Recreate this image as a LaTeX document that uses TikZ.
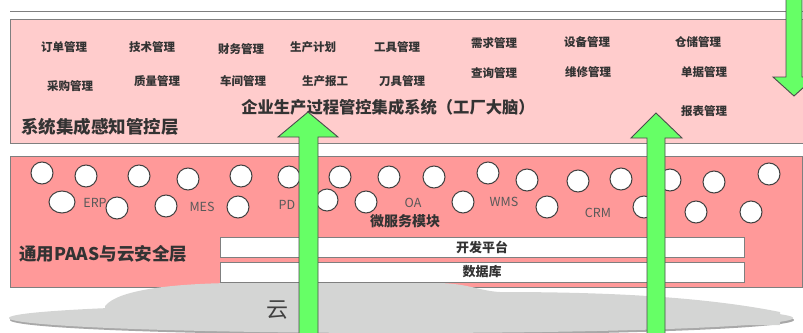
\documentclass[tikz,border=0pt]{standalone}
\usepackage{fontspec}
\setmainfont{Noto Sans CJK SC}
\newfontfamily\cjk{Noto Sans CJK SC}
\definecolor{toppink}{HTML}{FFCCCC}
\definecolor{midpink}{HTML}{FF9999}
\definecolor{frame}{HTML}{7F7F7F}
\definecolor{arrgreen}{HTML}{66FF66}
\definecolor{cloudgray}{HTML}{D4D5D4}
\definecolor{cloudshadow}{HTML}{A8A8A8}
\definecolor{txtdark}{HTML}{333333}
\definecolor{txtgray}{HTML}{595959}
\tikzset{
  layerbox/.style={draw=frame, line width=1pt},
  item/.style={font=\cjk\bfseries\fontsize{11.5}{12}\selectfont, text=txtdark, inner sep=0pt},
  modlabel/.style={font=\cjk\fontsize{12.5}{13}\selectfont, text=txtgray, inner sep=0pt},
  bubble/.style={draw=black!75, line width=1pt, fill=white},
  bar/.style={draw=frame, line width=1pt, fill=white},
  bigarrow/.style={draw=black!70, line width=0.9pt, fill=arrgreen, line join=miter},
  layertitle/.style={font=\cjk\bfseries\fontsize{17.5}{18}\selectfont, text=txtdark, inner sep=0pt, anchor=west},
}
\begin{document}
\begin{tikzpicture}[x=1pt,y=-1pt]
\useasboundingbox (0,0) rectangle (803,332);
% top rule
\draw[frame, line width=1pt] (10,11) -- (803,11);
% top layer
\path[layerbox, fill=toppink] (10,19) rectangle (806,143);
% middle layer
\path[layerbox, fill=midpink] (10,156) rectangle (802,287);
% bubbles
\foreach \x/\y in {42/173, 86/176, 139/176, 188/179, 241/176, 289/177, 340/177, 389/177,
  434/177, 488/173, 527/180, 578/181, 621/179, 670/180, 714/182, 769/174,
  117/208, 166/206, 238/207, 327/200, 366/202, 463/202, 547/207, 644/207, 696/212, 751/212}
  \path[bubble] (\x,\y) circle[radius=11];
\path[bubble] (62,202) ellipse[x radius=13, y radius=11];
% bars
\node[bar, minimum width=524pt, minimum height=20pt, inner sep=0pt] (dev) at (482,247) {};
\node[bar, minimum width=524pt, minimum height=20pt, inner sep=0pt] (db) at (482,272) {};
\node[font=\cjk\bfseries\fontsize{13}{13}\selectfont, text=txtdark] (devt) at (dev.center) {开发平台};
\node[font=\cjk\bfseries\fontsize{13}{13}\selectfont, text=txtdark] (dbt) at (db.center) {数据库};
% cloud
\fill[cloudshadow] (402,320) ellipse[x radius=392, y radius=15];
\fill[cloudgray] (401,318) ellipse[x radius=392, y radius=15];
\fill[cloudgray] (105,306) .. controls (118,290) and (170,284) .. (230,283)
  -- (440,283) .. controls (470,284) and (480,291) .. (500,292)
  .. controls (600,292) and (700,296) .. (780,312) -- (780,325) -- (105,325) -- cycle;
\node[font=\cjk\fontsize{22}{22}\selectfont, text=black!75, inner sep=0pt] (cloud) at (277,310) {云};
% module labels
\node[modlabel] (erp) at (95,203) {ERP};
\node[modlabel] (mes) at (202,207) {MES};
\node[modlabel] (pd) at (287,205) {PD};
\node[modlabel] (oa) at (413,203) {OA};
\node[modlabel] (wms) at (504,202) {WMS};
\node[modlabel] (crm) at (598,213) {CRM};
\node[font=\cjk\bfseries\fontsize{14}{14}\selectfont, text=txtdark, inner sep=0pt] (micro) at (405,221) {微服务模块};
\node[layertitle] (paas) at (19,254) {通用PAAS与云安全层};
% top layer items
\node[item] (t1) at (64,47) {订单管理};
\node[item] (t2) at (152,47) {技术管理};
\node[item] (t3) at (241,49) {财务管理};
\node[item] (t4) at (313,47) {生产计划};
\node[item] (t5) at (397,47) {工具管理};
\node[item] (t6) at (494,43) {需求管理};
\node[item] (t7) at (587,42) {设备管理};
\node[item] (t8) at (698,42) {仓储管理};
\node[item] (b1) at (70,86) {采购管理};
\node[item] (b2) at (157,81) {质量管理};
\node[item] (b3) at (243,81) {车间管理};
\node[item] (b4) at (325,81) {生产报工};
\node[item] (b5) at (402,81) {刀具管理};
\node[item] (b6) at (494,73) {查询管理};
\node[item] (b7) at (588,72) {维修管理};
\node[item] (b8) at (704,72) {单据管理};
\node[item] (b9) at (704,111) {报表管理};
\node[font=\cjk\bfseries\fontsize{16.3}{17}\selectfont, text=txtdark, inner sep=0pt] (brain) at (388,107) {企业生产过程管控集成系统（工厂大脑）};
\node[layertitle] (sys) at (21,127) {系统集成感知管控层};
% arrows
\path[bigarrow] (299,336) -- (299,137) -- (278,137) -- (308,112) -- (338,137) -- (318,137) -- (318,336) -- cycle;
\path[bigarrow] (647,336) -- (647,138) -- (631,138) -- (656,113) -- (682,138) -- (665,138) -- (665,336) -- cycle;
\path[bigarrow] (786,-5) -- (786,77) -- (773,77) -- (794,96) -- (815,77) -- (802,77) -- (802,-5) -- cycle;
\end{tikzpicture}
\end{document}
